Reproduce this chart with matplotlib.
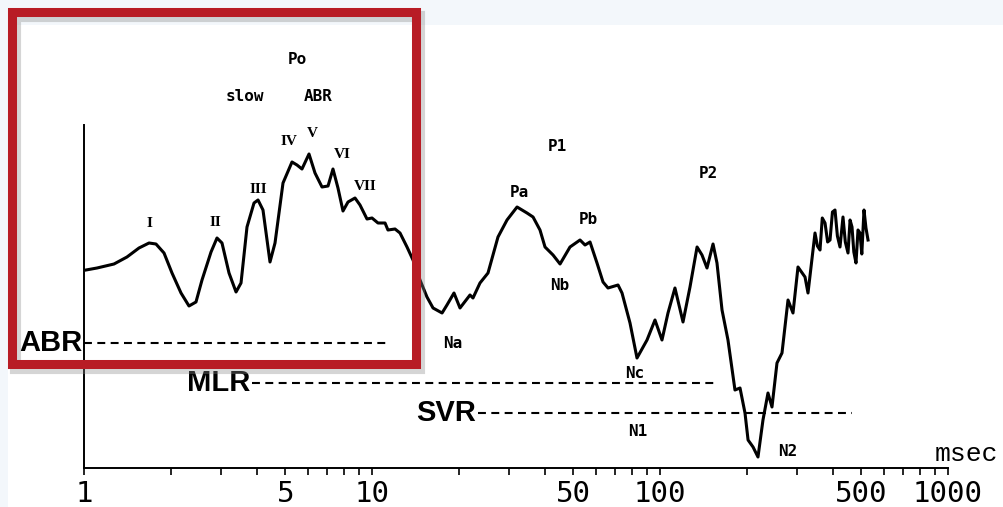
import matplotlib.pyplot as plt
from matplotlib.patches import Rectangle

# Waveform: latency (msec) and amplitude (arbitrary units)
latency = [1.016, 1.110, 1.271, 1.410, 1.552, 1.682, 1.778, 1.896, 2.021, 2.172,
           2.315, 2.448, 2.569, 2.761, 2.896, 3.014, 3.188, 3.372, 3.509, 3.681,
           3.893, 4.020, 4.183, 4.424, 4.605, 4.909, 5.275, 5.490, 5.713, 6.043,
           6.340, 6.705, 7.036, 7.320, 7.618, 7.930, 8.254, 8.730, 9.085, 9.608,
           10.00, 10.49, 11.10, 11.36, 12.02, 12.51, 13.23, 13.88, 14.68, 15.52,
           16.29, 17.51, 18.21, 19.26, 20.21, 21.89, 22.42, 23.71, 25.28, 27.38,
           29.43, 31.89, 34.53, 36.24, 38.31, 39.88, 42.52, 44.97, 48.70, 52.76,
           54.91, 57.15, 60.43, 63.41, 65.99, 71.49, 73.81, 78.68, 83.20, 90.14,
           96.07, 101.6, 106.6, 112.7, 120.2, 127.1, 134.5, 139.9, 145.6, 152.8,
           157.7, 164.2, 172.2, 182.1, 189.6, 197.3, 202.2, 210.4, 218.9, 227.8,
           237.1, 244.8, 254.8, 265.2, 278.3, 289.6, 301.4, 318.8, 326.5, 345.3,
           352.0, 359.4, 366.0, 374.1, 382.0, 389.4, 397.0, 405.2, 413.0, 421.7,
           431.9, 440.0, 449.6, 457.0, 464.2, 471.0, 479.2, 487.0, 494.8, 502.0,
           510.9, 519.0, 527.6]
amplitude = [198, 200, 204, 211, 220, 225, 224, 215, 195, 175,
             162, 166, 188, 216, 230, 225, 195, 176, 185, 241,
             265, 268, 258, 206, 225, 285, 306, 303, 299, 314,
             295, 281, 282, 299, 280, 257, 266, 270, 263, 249,
             250, 245, 245, 238, 239, 235, 221, 208, 188, 171,
             160, 155, 163, 175, 160, 173, 170, 185, 195, 231,
             248, 261, 255, 251, 238, 221, 213, 204, 221, 228,
             223, 226, 205, 186, 180, 183, 175, 145, 110, 128,
             148, 128, 155, 180, 146, 181, 221, 213, 200, 224,
             205, 158, 128, 78, 80, 55, 28, 21, 11, 48,
             75, 61, 105, 115, 168, 155, 201, 191, 175, 235,
             222, 218, 250, 245, 226, 228, 256, 258, 232, 221,
             251, 226, 215, 248, 241, 216, 205, 238, 235, 214,
             258, 240, 228]

# Peak labels: text, latency, amplitude
peak_names = ['Po', 'slow', 'ABR', 'I', 'II', 'III', 'IV', 'V', 'VI', 'VII',
              'P1', 'P2', 'Pa', 'Pb', 'Na', 'Nb', 'Nc', 'N1', 'N2']
peak_x = [5.49, 3.62, 6.49, 1.694, 2.87, 4.02, 5.15, 6.2, 7.87, 9.45,
          43.9, 147.4, 32.5, 56.2, 19.0, 45.0, 81.9, 83.9, 277.4]
peak_y = [408, 371, 371, 244, 245, 278, 326, 334, 313, 281,
          321, 294, 275, 248, 125, 183, 94, 36, 17]

# Response windows (dashed lines)
windows = ['ABR', 'MLR', 'SVR']
win_start = [1.0, 3.83, 23.3]
win_end = [11.3, 157.7, 464.0]
win_level = [125, 85, 55]

tick_vals = [1, 5, 10, 50, 100, 500, 1000]

fig = plt.figure(figsize=(10.04, 5.07), dpi=100, facecolor='#f3f7fb')
fig.patches.append(Rectangle((8 / 1004, 0), 1, 482 / 507, transform=fig.transFigure,
                             facecolor='white', edgecolor='none', zorder=-10))

ax = fig.add_axes([84 / 1004, 39 / 507, 864 / 1004, 343 / 507])
ax.set_facecolor('none')
ax.set_xscale('log')
ax.set_xlim(1, 1000)
ax.set_ylim(0, 343)

ax.plot(latency, amplitude, color='black', lw=2.2, solid_joinstyle='round')

for name, x0, x1, y in zip(windows, win_start, win_end, win_level):
    ax.plot([x0, x1], [y, y], color='black', lw=1.5, ls=(0, (3.8, 2.6)))
    ax.text(x0 * 0.985, y, name, ha='right', va='center', fontsize=21,
            fontweight='bold', family='Liberation Sans', clip_on=False)

roman = {'I', 'II', 'III', 'IV', 'V', 'VI', 'VII'}
for name, x, y in zip(peak_names, peak_x, peak_y):
    if name in roman:
        ax.text(x, y, name, ha='center', va='center', fontsize=11, fontweight='bold',
                family='Liberation Serif', clip_on=False)
    else:
        ax.text(x, y, name, ha='center', va='center', fontsize=11.5, fontweight='bold',
                family='DejaVu Sans Mono', clip_on=False)

ax.text(1157, 14, 'msec', ha='center', va='center', fontsize=19,
        family='Liberation Mono', clip_on=False)

ax.spines['top'].set_visible(False)
ax.spines['right'].set_visible(False)
ax.spines['left'].set_linewidth(1.4)
ax.spines['bottom'].set_linewidth(1.4)
ax.set_yticks([])
ax.set_xticks(tick_vals)
ax.set_xticklabels([str(v) for v in tick_vals], family='DejaVu Sans Mono', fontsize=21)
ax.tick_params(axis='x', which='major', direction='out', length=5, width=1.2, pad=4)
ax.tick_params(axis='x', which='minor', direction='out', length=5, width=1.2)

# highlight box around the ABR part
fig.patches.append(Rectangle((15 / 1004, (507 - 368) / 507), 404 / 1004, 352 / 507,
                             transform=fig.transFigure, fill=False,
                             edgecolor='#888888', alpha=0.35, lw=8, zorder=5))
fig.patches.append(Rectangle((12 / 1004, (507 - 364) / 507), 404 / 1004, 352 / 507,
                             transform=fig.transFigure, fill=False,
                             edgecolor='#b81c25', lw=6.5, zorder=6))

fig.savefig('out.png', dpi=100)
